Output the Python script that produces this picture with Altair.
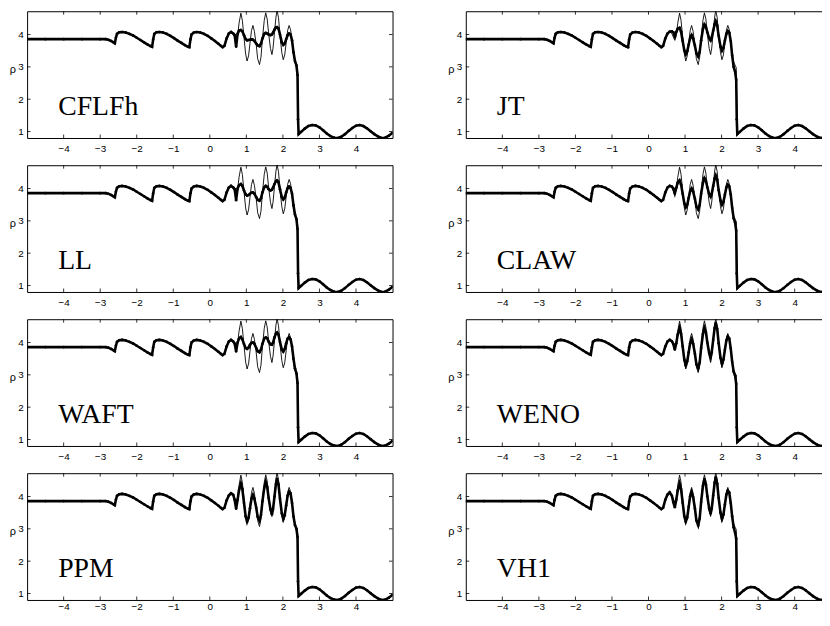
import altair as alt
import pandas as pd

METHODS = ["CFLFh", "JT", "LL", "CLAW", "WAFT", "WENO", "PPM", "VH1"]

X_TICKS = [-4, -3, -2, -1, 0, 1, 2, 3, 4]
Y_TICKS = [1, 2, 3, 4]
LABEL_X = -4.15
LABEL_RHO = 1.5

# smooth part left of the oscillatory region (shared)
LEFT_X = [-5.0, -4.5, -4.0, -3.5, -3.0, -2.85, -2.78, -2.70, -2.64, -2.60,
          -2.57, -2.54, -2.48, -2.40, -2.30, -2.20, -2.10, -2.00, -1.90, -1.80,
          -1.70, -1.62, -1.58, -1.55, -1.52, -1.46, -1.38, -1.28, -1.18, -1.08,
          -0.98, -0.88, -0.78, -0.68, -0.60, -0.56, -0.53, -0.50, -0.44, -0.36,
          -0.26, -0.16, -0.06, 0.04, 0.14, 0.24, 0.30, 0.35]
LEFT_RHO = [3.857, 3.857, 3.857, 3.857, 3.857, 3.857, 3.84, 3.80, 3.76, 3.73,
            3.90, 4.02, 4.07, 4.08, 4.06, 4.02, 3.97, 3.90, 3.83, 3.76,
            3.69, 3.64, 3.62, 3.85, 4.02, 4.07, 4.08, 4.06, 4.02, 3.96,
            3.89, 3.81, 3.74, 3.67, 3.62, 3.61, 3.85, 4.00, 4.06, 4.08,
            4.06, 4.02, 3.96, 3.88, 3.80, 3.71, 3.65, 3.61]

# region right of the shock (shared)
RIGHT_X = [2.43, 2.50, 2.60, 2.70, 2.80, 2.90, 3.00, 3.10, 3.20, 3.30,
           3.40, 3.50, 3.60, 3.70, 3.80, 3.90, 4.00, 4.10, 4.20, 4.30,
           4.40, 4.50, 4.60, 4.70, 4.80, 4.90, 5.00]
RIGHT_RHO = [0.92, 0.99, 1.09, 1.17, 1.20, 1.19, 1.13, 1.04, 0.94, 0.86,
             0.81, 0.80, 0.84, 0.92, 1.02, 1.11, 1.18, 1.20, 1.17, 1.10,
             1.01, 0.92, 0.85, 0.80, 0.81, 0.87, 0.96]

# intermediate point inside the captured shock (numerical solutions)
SHOCK_X = [2.415]
SHOCK_RHO = [1.38]

# oscillatory region
MID_X = [0.40, 0.46, 0.52, 0.58, 0.64, 0.68, 0.72, 0.76, 0.80, 0.85,
         0.89, 0.935, 0.98, 1.02,
         1.06, 1.10, 1.14, 1.18,
         1.22, 1.27, 1.31, 1.36,
         1.40, 1.44, 1.49, 1.53,
         1.57, 1.61, 1.66, 1.70,
         1.73, 1.77, 1.81, 1.84,
         1.88, 1.92, 1.97, 2.01,
         2.05, 2.09, 2.13, 2.17,
         2.21, 2.25, 2.29, 2.33, 2.37, 2.40]

REF_MID = [3.65, 3.88, 4.03, 4.08, 4.03, 3.92, 3.82, 3.96, 4.35, 4.66,
           4.44, 3.92, 3.40, 3.18,
           3.34, 3.73, 4.12, 4.28,
           4.10, 3.68, 3.25, 3.07,
           3.30, 3.87, 4.44, 4.67,
           4.48, 4.03, 3.57, 3.38,
           3.58, 4.06, 4.54, 4.74,
           4.52, 3.98, 3.44, 3.22,
           3.37, 3.75, 4.13, 4.28,
           4.15, 3.80, 3.40, 3.15, 3.05, 2.98]

CFLFH_MID = [3.65, 3.88, 4.03, 4.08, 4.03, 3.98, 3.62, 4.02, 4.12, 4.14,
             4.10, 3.98, 3.86, 3.82,
             3.83, 3.84, 3.85, 3.84,
             3.80, 3.72, 3.66, 3.64,
             3.72, 3.88, 4.02, 4.05,
             4.03, 4.00, 3.98, 4.00,
             4.06, 4.15, 4.22, 4.23,
             4.18, 4.00, 3.76, 3.68,
             3.72, 3.86, 3.98, 4.03,
             4.00, 3.82, 3.45, 3.18, 3.05, 2.75]

JT_MID = [3.65, 3.88, 4.03, 4.09, 4.10, 4.07, 3.95, 4.08, 4.18, 4.21,
          4.09, 3.80, 3.51, 3.39,
          3.48, 3.69, 3.89, 3.98,
          3.88, 3.65, 3.42, 3.32,
          3.46, 3.82, 4.17, 4.31,
          4.24, 4.07, 3.89, 3.82,
          3.91, 4.12, 4.32, 4.41,
          4.28, 3.96, 3.63, 3.50,
          3.59, 3.81, 4.02, 4.11,
          4.06, 3.80, 3.35, 3.00, 2.85, 2.60]

LL_MID = [3.65, 3.88, 4.03, 4.08, 4.03, 3.98, 3.64, 4.00, 4.10, 4.14,
          4.08, 3.94, 3.82, 3.78,
          3.80, 3.84, 3.87, 3.88,
          3.84, 3.73, 3.65, 3.62,
          3.70, 3.88, 4.04, 4.08,
          4.05, 3.98, 3.94, 3.96,
          4.03, 4.14, 4.23, 4.25,
          4.19, 3.98, 3.74, 3.66,
          3.72, 3.88, 4.01, 4.06,
          4.02, 3.84, 3.48, 3.20, 3.06, 2.75]

CLAW_MID = [3.65, 3.88, 4.03, 4.08, 4.06, 4.00, 3.85, 4.02, 4.18, 4.25,
            4.13, 3.84, 3.54, 3.42,
            3.50, 3.71, 3.92, 4.00,
            3.91, 3.68, 3.44, 3.35,
            3.49, 3.84, 4.18, 4.32,
            4.24, 4.04, 3.83, 3.75,
            3.84, 4.08, 4.31, 4.40,
            4.27, 3.95, 3.63, 3.50,
            3.59, 3.81, 4.03, 4.12,
            4.07, 3.82, 3.40, 3.08, 2.95, 2.70]

WAFT_MID = [3.65, 3.88, 4.03, 4.08, 4.03, 3.97, 3.72, 4.00, 4.12, 4.17,
            4.10, 3.95, 3.83, 3.80,
            3.84, 3.93, 3.99, 4.00,
            3.96, 3.83, 3.73, 3.70,
            3.78, 3.96, 4.12, 4.16,
            4.13, 4.03, 3.94, 3.93,
            4.00, 4.16, 4.28, 4.31,
            4.24, 4.02, 3.78, 3.72,
            3.80, 3.98, 4.12, 4.16,
            4.10, 3.88, 3.50, 3.20, 3.05, 2.75]

WENO_MID = [3.65, 3.88, 4.03, 4.08, 4.04, 3.95, 3.78, 3.98, 4.25, 4.45,
            4.28, 3.88, 3.47, 3.30,
            3.42, 3.70, 3.98, 4.10,
            3.97, 3.65, 3.33, 3.20,
            3.38, 3.83, 4.27, 4.45,
            4.32, 4.00, 3.68, 3.55,
            3.70, 4.08, 4.45, 4.60,
            4.42, 3.98, 3.53, 3.35,
            3.47, 3.77, 4.06, 4.18,
            4.12, 3.82, 3.40, 3.10, 2.98, 2.72]

PPM_MID = [3.65, 3.88, 4.03, 4.10, 4.05, 3.90, 3.62, 3.90, 4.20, 4.40,
           4.23, 3.81, 3.39, 3.22,
           3.34, 3.64, 3.93, 4.05,
           3.93, 3.65, 3.37, 3.25,
           3.43, 3.85, 4.27, 4.45,
           4.30, 3.95, 3.60, 3.45,
           3.61, 4.00, 4.39, 4.55,
           4.37, 3.93, 3.48, 3.30,
           3.42, 3.73, 4.03, 4.15,
           4.10, 3.80, 3.38, 3.12, 3.00, 2.75]

VH1_MID = [3.65, 3.90, 4.06, 4.13, 4.02, 3.82, 3.67, 3.90, 4.18, 4.40,
           4.23, 3.81, 3.39, 3.22,
           3.35, 3.68, 4.01, 4.14,
           3.99, 3.63, 3.26, 3.11,
           3.32, 3.83, 4.33, 4.54,
           4.38, 4.01, 3.63, 3.47,
           3.63, 4.03, 4.43, 4.59,
           4.40, 3.95, 3.50, 3.31,
           3.44, 3.75, 4.05, 4.18,
           4.12, 3.80, 3.38, 3.05, 2.88, 2.70]

MID_BY_METHOD = {
    "CFLFh": CFLFH_MID, "JT": JT_MID, "LL": LL_MID, "CLAW": CLAW_MID,
    "WAFT": WAFT_MID, "WENO": WENO_MID, "PPM": PPM_MID, "VH1": VH1_MID,
}

X_DOMAIN = [-5, 5]
Y_DOMAIN = [0.8, 4.72]

W, H = 369, 128
TL = 3.5  # inward tick length (px)
ROW_GAP, COL_GAP = 27.5, 74

# overall drawing size: the right column is cut off by the page edge, like the original
SVG_W, SVG_H = 822, 606
PAD_LEFT, PAD_TOP = 19.3, 0.3

LABEL_FONT = "Liberation Sans"
xs = alt.Scale(domain=X_DOMAIN, nice=False, zero=False)
ys = alt.Scale(domain=Y_DOMAIN, nice=False, zero=False)

YAXIS = alt.Axis(values=Y_TICKS, title="ρ", titleAngle=0, titleX=-15, titleY=62,
                 titleAlign="center", titleBaseline="alphabetic", titleFont=LABEL_FONT,
                 titleFontSize=11, titleFontWeight="normal", titleColor="black",
                 ticks=False, tickSize=0, domain=False, grid=False,
                 labelFont=LABEL_FONT, labelFontSize=10, labelPadding=4,
                 labelColor="black")


def panel(name, bottom_row):
    xaxis = alt.Axis(values=X_TICKS, title=None, ticks=False, tickSize=0, domain=False,
                     grid=False, labelFont=LABEL_FONT, labelFontSize=10,
                     labelPadding=1.2 if bottom_row else 5.5,
                     labelColor="black", labelFlush=False)

    def X(field):
        return alt.X(field, type="quantitative", scale=xs, axis=xaxis)

    def Y(field):
        return alt.Y(field, type="quantitative", scale=ys, axis=YAXIS)

    ref = pd.DataFrame({"x": LEFT_X + MID_X + RIGHT_X,
                        "rho": LEFT_RHO + REF_MID + RIGHT_RHO})
    num = pd.DataFrame({"x": LEFT_X + MID_X + SHOCK_X + RIGHT_X,
                        "rho": LEFT_RHO + MID_BY_METHOD[name] + SHOCK_RHO + RIGHT_RHO})
    xt = pd.DataFrame({"x": X_TICKS})
    yt = pd.DataFrame({"rho": Y_TICKS})

    ref_line = alt.Chart(ref).mark_line(color="black", strokeWidth=0.9, clip=True).encode(
        x=X("x"), y=Y("rho"))
    num_line = alt.Chart(num).mark_line(color="black", strokeWidth=2.6, clip=True).encode(
        x=X("x"), y=Y("rho"))
    num_pts = alt.Chart(num).mark_circle(color="black", size=7, opacity=1, clip=True).encode(
        x=X("x"), y=Y("rho"))
    xt_bot = alt.Chart(xt).mark_rule(color="black", strokeWidth=0.8).encode(
        x=X("x"), y=alt.value(H), y2=alt.value(H - TL))
    xt_top = alt.Chart(xt).mark_rule(color="black", strokeWidth=0.8).encode(
        x=X("x"), y=alt.value(0), y2=alt.value(TL))
    yt_left = alt.Chart(yt).mark_rule(color="black", strokeWidth=0.8).encode(
        y=Y("rho"), x=alt.value(0), x2=alt.value(TL))
    yt_right = alt.Chart(yt).mark_rule(color="black", strokeWidth=0.8).encode(
        y=Y("rho"), x=alt.value(W), x2=alt.value(W - TL))
    label = alt.Chart(pd.DataFrame({"x": [LABEL_X], "rho": [LABEL_RHO], "name": [name]})).mark_text(
        align="left", baseline="alphabetic", font="Liberation Serif", fontSize=28,
        color="black").encode(x=X("x"), y=Y("rho"), text="name:N")

    return alt.layer(ref_line, num_line, num_pts, xt_bot, xt_top, yt_left, yt_right,
                     label).properties(width=W, height=H)


panels = [panel(m, i >= len(METHODS) - 2) for i, m in enumerate(METHODS)]

chart = alt.concat(*panels, columns=2,
                   spacing={"row": ROW_GAP, "column": COL_GAP}, bounds="flush").properties(
    autosize=alt.AutoSizeParams(type="none"),
    padding={"left": PAD_LEFT, "top": PAD_TOP,
             "right": SVG_W - PAD_LEFT, "bottom": SVG_H - PAD_TOP},
    background="white",
).configure_view(stroke="black", strokeWidth=1)

chart.save("out.html", embed_options={"renderer": "svg", "actions": False})
